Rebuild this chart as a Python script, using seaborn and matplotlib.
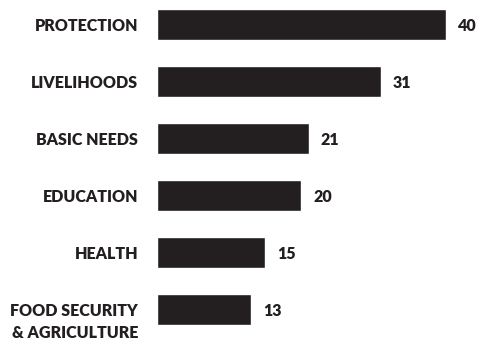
import matplotlib
matplotlib.use("Agg")
import matplotlib.pyplot as plt
import seaborn as sns
import pandas as pd

# Datos del gráfico
categories = ["PROTECTION", "LIVELIHOODS", "BASIC NEEDS", "EDUCATION", "HEALTH",
              "FOOD SECURITY\n& AGRICULTURE"]
values = [40, 31, 21, 20, 15, 13]

ink = "#231f20"

sns.set_theme(style="white")
plt.rcParams['font.family'] = ['Lato', 'DejaVu Sans']

df = pd.DataFrame({"category": categories, "value": values})

fig = plt.figure(figsize=(4.8, 3.43), dpi=100)
# ejes colocados a mano: el cero en x=157 px
ax = fig.add_axes([157 / 480, 5 / 343, 320 / 480, 338 / 343])

sns.barplot(data=df, x="value", y="category", orient="h", color=ink,
            saturation=1, width=0.54, ax=ax)

ax.set_xlim(0, 320 / 7.22)
ax.set_ylim(5.5, -0.43)
ax.set_axis_off()

for i, (cat, val) in enumerate(zip(categories, values)):
    # la primera línea va centrada en la barra, las demás cuelgan debajo
    for k, line in enumerate(cat.split("\n")):
        ax.annotate(line, xy=(0, i), xytext=(-19, -22 * k), textcoords="offset pixels",
                    ha="right", va="center_baseline", fontsize=11.5,
                    fontweight="heavy", color=ink, annotation_clip=False)
    ax.annotate(str(val), xy=(val, i), xytext=(12, 0), textcoords="offset pixels",
                ha="left", va="center_baseline", fontsize=11.5,
                fontweight="heavy", color=ink, annotation_clip=False)

fig.savefig("out.png", dpi=100)
